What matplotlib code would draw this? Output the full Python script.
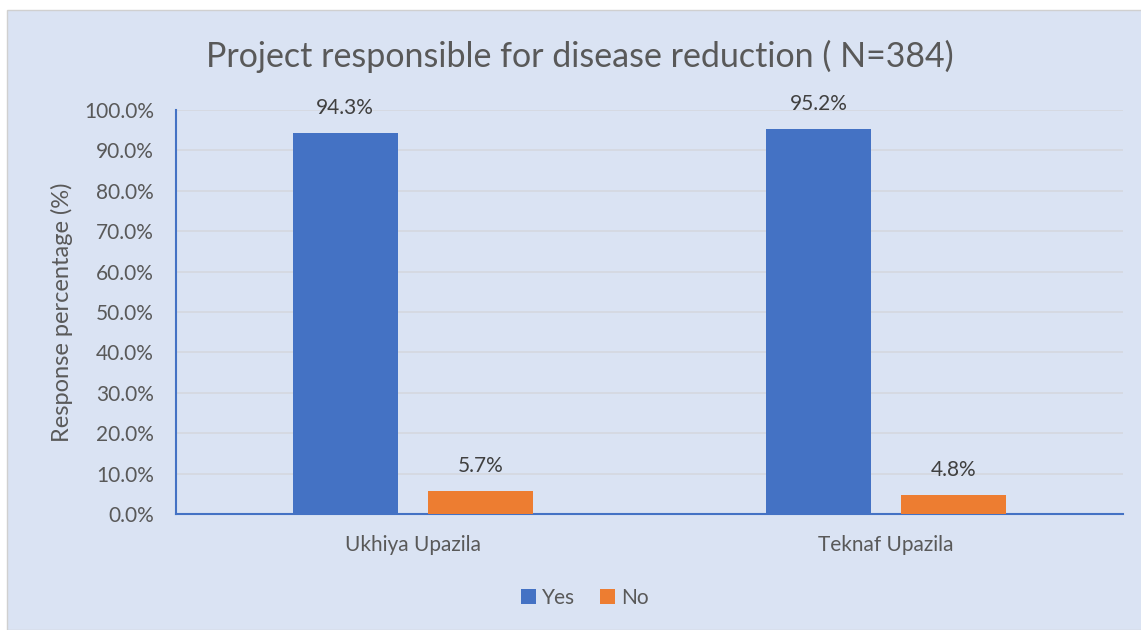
import numpy as np
import matplotlib.pyplot as plt
from matplotlib.patches import Rectangle
from matplotlib.ticker import PercentFormatter

categories = ["Ukhiya Upazila", "Teknaf Upazila"]
series_names = ["Yes", "No"]
yes_vals = [94.3, 95.2]
no_vals = [5.7, 4.8]
yticks = [0, 10, 20, 30, 40, 50, 60, 70, 80, 90, 100]

plt.rcParams['font.family'] = ['Lato', 'DejaVu Sans']
txt = "#595959"
bg = "#DAE3F3"

fig = plt.figure(figsize=(11.41, 6.30), dpi=100)
fig.patch.set_facecolor("white")
# chart area panel
fig.patches.append(Rectangle((7 / 1141, 0), 1.0, 1 - 10 / 630, transform=fig.transFigure,
                             facecolor=bg, edgecolor="#D0D0D0", linewidth=1.0, zorder=-5))

ax = fig.add_axes([176 / 1141, 1 - 514 / 630, (1123 - 176) / 1141, (514 - 110) / 630])
ax.set_zorder(2)
ax.set_facecolor(bg)

x = np.arange(len(categories))
w = 0.222
off = 0.1425
b1 = ax.bar(x - off, yes_vals, w, color="#4472C4", label=series_names[0], zorder=3)
b2 = ax.bar(x + off, no_vals, w, color="#ED7D31", label=series_names[1], zorder=3)

for bars in (b1, b2):
    for r in bars:
        ax.annotate(f"{r.get_height():.1f}%", (r.get_x() + r.get_width() / 2, r.get_height()),
                    xytext=(0, 18), textcoords="offset points", ha="center", va="center",
                    fontsize=15, color="#404040")

ax.set_xlim(-0.5, len(categories) - 0.5)
ax.set_ylim(0, 100)
ax.set_yticks(yticks)
ax.yaxis.set_major_formatter(PercentFormatter(decimals=1))
ax.set_xticks(x)
ax.set_xticklabels(categories)
ax.tick_params(axis="both", length=0, labelsize=15, colors=txt)
ax.tick_params(axis="x", pad=15)
ax.tick_params(axis="y", pad=16)
ax.grid(axis="y", color="#D4D8DF", linewidth=1.2, zorder=0)
ax.set_axisbelow(True)

for s in ("top", "right"):
    ax.spines[s].set_visible(False)
for s in ("left", "bottom"):
    ax.spines[s].set_color("#4472C4")
    ax.spines[s].set_linewidth(1.5)

ax.set_ylabel("Response percentage (%)", fontsize=17, color=txt, labelpad=8)
fig.text(580 / 1141, 1 - 56 / 630, "Project responsible for disease reduction ( N=384)",
         ha="center", va="center", fontsize=24.5, color=txt)

leg = ax.legend(loc="center", bbox_to_anchor=(585 / 1141, 1 - 598 / 630),
                bbox_transform=fig.transFigure, ncol=2, frameon=False,
                fontsize=15, handlelength=0.7, handleheight=0.7, columnspacing=1.2,
                handletextpad=0.3)
for t in leg.get_texts():
    t.set_color(txt)

fig.savefig("out.png", dpi=100)
